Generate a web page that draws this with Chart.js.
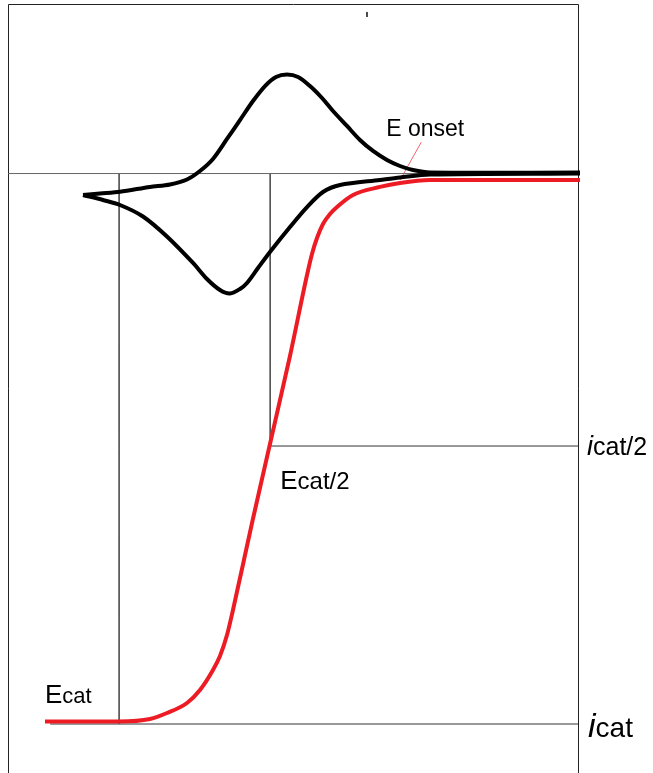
<!DOCTYPE html>
<html>
<head>
<meta charset="utf-8">
<script src="https://cdn.jsdelivr.net/npm/chart.js@4.4.1/dist/chart.umd.min.js"></script>
<style>
  html, body { margin: 0; padding: 0; background: #fff; }
  #wrap { width: 653px; height: 773px; }
</style>
</head>
<body>
<div id="wrap"><canvas id="cv" width="653" height="773"></canvas></div>
<script>
// CV, forward sweep: from the right flat part over the anodic peak to the switching tip
const cvFwdE = [0.0035, -0.2596, -0.2895, -0.3123, -0.3351, -0.3596, -0.3825, -0.4053, -0.4298, -0.4491, -0.4702, -0.4912, -0.5105, -0.5298, -0.5491, -0.5702, -0.593, -0.6158, -0.6404, -0.6632, -0.686, -0.7158, -0.7509, -0.8035, -0.8386, -0.8684];
const cvFwdI = [0.0019, 0.0019, 0.0065, 0.0137, 0.0246, 0.041, 0.061, 0.0864, 0.1136, 0.1372, 0.159, 0.1754, 0.1799, 0.1754, 0.159, 0.1318, 0.0972, 0.0628, 0.0265, 0.0046, -0.0108, -0.0199, -0.0244, -0.033, -0.0362, -0.039];

// CV, return sweep: from the tip over the cathodic peak back to the right
const cvRevE = [-0.8684, -0.8333, -0.8035, -0.7632, -0.7211, -0.6754, -0.6509, -0.6281, -0.6105, -0.593, -0.5807, -0.5614, -0.5404, -0.5053, -0.4754, -0.4474, -0.4175, -0.3474, -0.3123, -0.2596, 0.0035];
const cvRevI = [-0.039, -0.0481, -0.0571, -0.078, -0.1144, -0.1625, -0.1916, -0.2116, -0.2179, -0.2097, -0.1988, -0.1716, -0.1425, -0.0971, -0.0608, -0.0335, -0.0208, -0.0117, -0.0072, -0.0017, 0.0001];

// catalytic wave (red)
const catE = [-0.9351, -0.8053, -0.7509, -0.7211, -0.686, -0.6632, -0.6404, -0.6281, -0.6158, -0.6053, -0.5719, -0.5404, -0.5053, -0.4754, -0.4667, -0.4579, -0.4474, -0.4351, -0.4228, -0.3947, -0.3474, -0.3123, -0.2596, 0.0035];
const catI = [-0.9954, -0.9954, -0.9909, -0.98, -0.9618, -0.9382, -0.9018, -0.8764, -0.8383, -0.7928, -0.6348, -0.4913, -0.3314, -0.1843, -0.1461, -0.1171, -0.0917, -0.0735, -0.0608, -0.039, -0.0243, -0.0171, -0.0117, -0.0117];

// marked potentials and currents
const eCat = -0.805;
const eHalf = -0.54;
const eOnset = -0.312;
const iOnset = -0.0117;
const eOnsetLabel = -0.275;
const iOnsetLabel = 0.057;
const eLineStart = -0.926;
const iCat = -1;
const iHalf = -0.495;

// small stray tick near the top edge
const eTick = -0.3702;
const iTick = [0.2935, 0.2844];

const eMin = -1, eMax = 0, iMin = -1.089, iMax = 0.308;

function pts(xs, ys) {
  return xs.map((x, k) => ({ x: x, y: ys[k] }));
}

function refLine(data, color) {
  return {
    data: data,
    showLine: true,
    borderColor: color || '#555',
    borderWidth: 1,
    pointRadius: 0,
    tension: 0,
    order: 2
  };
}

// labels: text parts with their own font, anchored at a data point
const labelList = [
  { at: [eOnsetLabel, iOnsetLabel], dx: -35, dy: -6, parts: [['E onset', '23px "Liberation Sans"']] },
  { at: [catE[0], catI[0]], dx: 0, dy: -18, parts: [['E', '26px "Liberation Sans"'], ['cat', '22px "Liberation Sans"']] },
  { at: [eHalf, iHalf], dx: 10, dy: 43, parts: [['E', '26px "Liberation Sans"'], ['cat/2', '24px "Liberation Sans"']] },
  { at: [eMax, iHalf], dx: 9, dy: 9, parts: [['i', 'italic 27px "Liberation Sans"'], ['cat/2', '25px "Liberation Sans"']] },
  { at: [eMax, iCat], dx: 10, dy: 13, parts: [['i', 'italic 34px "Liberation Sans"'], ['cat', '28px "Liberation Sans"']] }
];

const frame = {
  id: 'frame',
  beforeDatasetsDraw(chart) {
    const { ctx, chartArea: a } = chart;
    ctx.save();
    ctx.strokeStyle = '#222';
    ctx.lineWidth = 1;
    ctx.beginPath();
    ctx.moveTo(a.left + 0.5, a.bottom);
    ctx.lineTo(a.left + 0.5, a.top + 0.5);
    ctx.lineTo(a.right + 0.5, a.top + 0.5);
    ctx.lineTo(a.right + 0.5, a.bottom);
    ctx.stroke();
    ctx.restore();
  }
};

const texts = {
  id: 'texts',
  afterDatasetsDraw(chart) {
    const { ctx } = chart;
    const xs = chart.scales.x, ys = chart.scales.y;
    ctx.save();
    ctx.fillStyle = '#000';
    ctx.textBaseline = 'alphabetic';
    labelList.forEach(l => {
      let x = xs.getPixelForValue(l.at[0]) + l.dx;
      const y = ys.getPixelForValue(l.at[1]) + l.dy;
      l.parts.forEach(p => {
        ctx.font = p[1];
        ctx.fillText(p[0], x, y);
        x += ctx.measureText(p[0]).width;
      });
    });
    ctx.restore();
  }
};

new Chart(document.getElementById('cv'), {
  type: 'scatter',
  data: {
    datasets: [
      {
        data: pts(cvFwdE, cvFwdI),
        showLine: true, borderColor: '#000', borderWidth: 4,
        pointRadius: 0, tension: 0.3, clip: false, order: 0
      },
      {
        data: pts(cvRevE, cvRevI),
        showLine: true, borderColor: '#000', borderWidth: 4,
        pointRadius: 0, tension: 0.3, clip: false, order: 0
      },
      {
        data: pts(catE, catI),
        showLine: true, borderColor: '#ed1c24', borderWidth: 4,
        pointRadius: 0, cubicInterpolationMode: 'monotone', clip: false, order: 1
      },
      refLine([{ x: eMin, y: 0 }, { x: eMax, y: 0 }], '#666'),
      refLine([{ x: eCat, y: 0 }, { x: eCat, y: iCat }]),
      refLine([{ x: eHalf, y: 0 }, { x: eHalf, y: iHalf }]),
      refLine([{ x: eHalf, y: iHalf }, { x: eMax, y: iHalf }], '#333'),
      refLine([{ x: eLineStart, y: iCat }, { x: eMax, y: iCat }], '#333'),
      refLine([{ x: eOnset, y: iOnset }, { x: eOnsetLabel, y: iOnsetLabel }], '#f26470'),
      refLine([{ x: eTick, y: iTick[0] }, { x: eTick, y: iTick[1] }], '#333')
    ]
  },
  options: {
    responsive: false,
    animation: false,
    events: [],
    layout: { padding: { left: 8, top: 4, right: 75, bottom: 0 } },
    plugins: { legend: { display: false }, tooltip: { enabled: false } },
    scales: {
      x: { type: 'linear', min: eMin, max: eMax, display: false },
      y: { type: 'linear', min: iMin, max: iMax, display: false }
    }
  },
  plugins: [frame, texts]
});
</script>
</body>
</html>
